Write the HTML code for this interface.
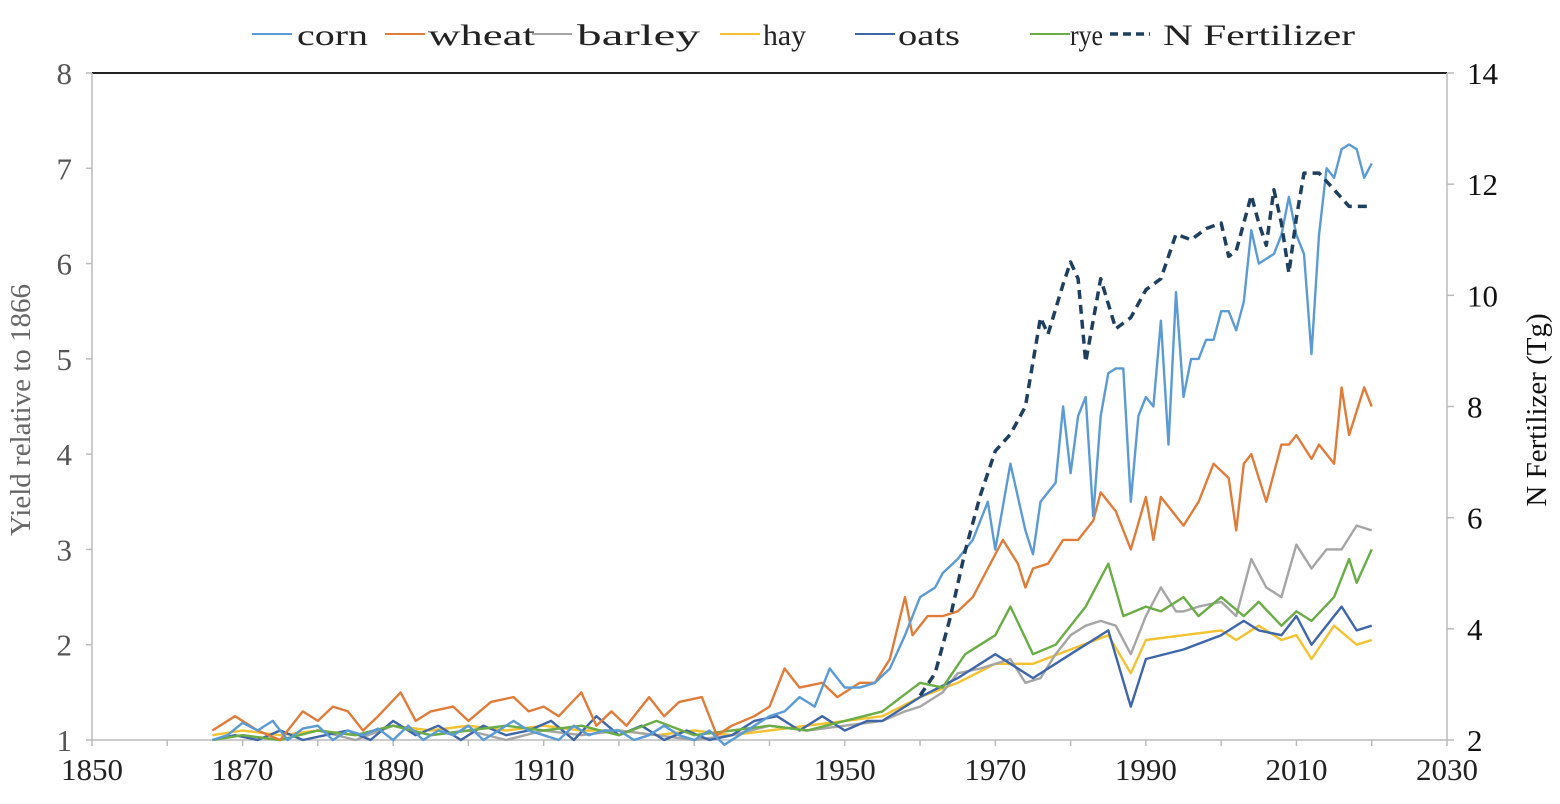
<!DOCTYPE html>
<html><head><meta charset="utf-8"><style>
body{margin:0;background:#fff;}
svg{display:block;font-family:"Liberation Serif",serif;}
</style></head><body>
<svg id="chart" width="1560" height="804" xmlns="http://www.w3.org/2000/svg">
<g id="axes"></g>
<g id="series"></g>
<g id="legend"></g>
<text transform="translate(30,410) rotate(-90)" text-anchor="middle" font-size="29" fill="#666">Yield relative to 1866</text>
<text transform="translate(1546,410) rotate(-90)" text-anchor="middle" font-size="29" fill="#111">N Fertilizer (Tg)</text>
</svg>
<script>
const xTicks=[1850,1870,1890,1910,1930,1950,1970,1990,2010,2030];
const yTicksLeft=[1,2,3,4,5,6,7,8];
const yTicksRight=[2,4,6,8,10,12,14];

const cornYears=[1866,1868,1870,1872,1874,1876,1878,1880,1882,1884,1886,1888,1890,1892,1894,1896,1898,1900,1902,1904,1906,1908,1910,1912,1914,1916,1918,1920,1922,1924,1926,1928,1930,1932,1934,1936,1938,1940,1942,1944,1946,1948,1950,1952,1954,1956,1958,1960,1962,1963,1965,1967,1969,1970,1972,1974,1975,1976,1978,1979,1980,1981,1982,1983,1984,1985,1986,1987,1988,1989,1990,1991,1992,1993,1994,1995,1996,1997,1998,1999,2000,2001,2002,2003,2004,2005,2006,2007,2008,2009,2010,2011,2012,2013,2014,2015,2016,2017,2018,2019,2020];
const cornValues=[1,1.05,1.18,1.1,1.2,1.0,1.12,1.15,1.0,1.1,1.05,1.12,1.0,1.15,1.0,1.1,1.05,1.15,1.0,1.1,1.2,1.1,1.05,1.0,1.15,1.05,1.1,1.1,1.0,1.05,1.15,1.05,1.0,1.1,0.95,1.05,1.15,1.25,1.3,1.45,1.35,1.75,1.55,1.55,1.6,1.75,2.1,2.5,2.6,2.75,2.9,3.1,3.5,3.0,3.9,3.2,2.95,3.5,3.7,4.5,3.8,4.4,4.6,3.35,4.4,4.85,4.9,4.9,3.5,4.4,4.6,4.5,5.4,4.1,5.7,4.6,5.0,5.0,5.2,5.2,5.5,5.5,5.3,5.6,6.35,6.0,6.05,6.1,6.3,6.7,6.3,6.1,5.05,6.3,7.0,6.9,7.2,7.25,7.2,6.9,7.05];

const wheatYears=[1866,1869,1872,1875,1878,1880,1882,1884,1886,1888,1891,1893,1895,1898,1900,1903,1906,1908,1910,1912,1915,1917,1919,1921,1924,1926,1928,1931,1933,1935,1938,1940,1942,1944,1947,1949,1950,1952,1954,1956,1958,1959,1961,1963,1965,1967,1969,1971,1973,1974,1975,1977,1979,1981,1983,1984,1986,1988,1990,1991,1992,1994,1995,1997,1998,1999,2001,2002,2003,2004,2006,2008,2009,2010,2012,2013,2015,2016,2017,2019,2020];
const wheatValues=[1.1,1.25,1.1,1.0,1.3,1.2,1.35,1.3,1.1,1.25,1.5,1.2,1.3,1.35,1.2,1.4,1.45,1.3,1.35,1.25,1.5,1.15,1.3,1.15,1.45,1.25,1.4,1.45,1.05,1.15,1.25,1.35,1.75,1.55,1.6,1.45,1.5,1.6,1.6,1.85,2.5,2.1,2.3,2.3,2.35,2.5,2.8,3.1,2.85,2.6,2.8,2.85,3.1,3.1,3.3,3.6,3.4,3.0,3.55,3.1,3.55,3.35,3.25,3.5,3.7,3.9,3.75,3.2,3.9,4.0,3.5,4.1,4.1,4.2,3.95,4.1,3.9,4.7,4.2,4.7,4.5];

const barleyYears=[1866,1870,1875,1880,1885,1890,1895,1900,1905,1910,1915,1920,1925,1930,1935,1940,1945,1950,1955,1958,1960,1963,1965,1968,1970,1972,1974,1976,1978,1980,1982,1984,1986,1988,1990,1992,1994,1995,1997,2000,2002,2004,2006,2008,2010,2012,2014,2016,2018,2020];
const barleyValues=[1,1.05,1.0,1.1,1.0,1.15,1.05,1.1,1.0,1.1,1.05,1.1,1.05,1.0,1.05,1.15,1.1,1.15,1.2,1.3,1.35,1.5,1.7,1.75,1.8,1.85,1.6,1.65,1.9,2.1,2.2,2.25,2.2,1.9,2.3,2.6,2.35,2.35,2.4,2.45,2.3,2.9,2.6,2.5,3.05,2.8,3.0,3.0,3.25,3.2];

const hayYears=[1866,1870,1875,1880,1885,1890,1895,1900,1905,1910,1915,1920,1925,1930,1935,1940,1945,1950,1955,1960,1965,1970,1975,1980,1985,1988,1990,1995,2000,2002,2005,2008,2010,2012,2015,2018,2020];
const hayValues=[1.05,1.1,1.05,1.1,1.05,1.15,1.1,1.15,1.1,1.15,1.1,1.1,1.05,1.1,1.05,1.1,1.15,1.2,1.25,1.45,1.6,1.8,1.8,1.95,2.1,1.7,2.05,2.1,2.15,2.05,2.2,2.05,2.1,1.85,2.2,2.0,2.05];

const oatsYears=[1866,1869,1872,1875,1878,1881,1884,1887,1890,1893,1896,1899,1902,1905,1908,1911,1914,1917,1920,1923,1926,1929,1932,1935,1938,1941,1944,1947,1950,1953,1955,1960,1965,1970,1975,1980,1985,1988,1990,1995,2000,2003,2005,2008,2010,2012,2016,2018,2020];
const oatsValues=[1,1.05,1.0,1.1,1.0,1.05,1.1,1.0,1.2,1.05,1.15,1.0,1.15,1.05,1.1,1.2,1.0,1.25,1.05,1.15,1.0,1.1,1.0,1.05,1.2,1.25,1.1,1.25,1.1,1.2,1.2,1.45,1.65,1.9,1.65,1.9,2.15,1.35,1.85,1.95,2.1,2.25,2.15,2.1,2.3,2.0,2.4,2.15,2.2];

const ryeYears=[1866,1870,1875,1880,1885,1890,1895,1900,1905,1910,1915,1920,1925,1930,1935,1940,1945,1950,1955,1960,1963,1966,1970,1972,1975,1978,1982,1985,1987,1990,1992,1995,1997,2000,2003,2005,2008,2010,2012,2015,2017,2018,2020];
const ryeValues=[1,1.05,1.0,1.1,1.05,1.15,1.05,1.1,1.15,1.1,1.15,1.05,1.2,1.05,1.1,1.15,1.1,1.2,1.3,1.6,1.55,1.9,2.1,2.4,1.9,2.0,2.4,2.85,2.3,2.4,2.35,2.5,2.3,2.5,2.3,2.45,2.2,2.35,2.25,2.5,2.9,2.65,3.0];

const fertYears=[1960,1962,1964,1966,1968,1970,1972,1974,1976,1977,1979,1980,1981,1982,1984,1986,1988,1990,1992,1994,1996,1998,2000,2001,2002,2004,2005,2006,2007,2008,2009,2010,2011,2013,2015,2017,2020];
const fertValues=[2.8,3.2,4.2,5.4,6.4,7.2,7.5,8.0,9.6,9.3,10.2,10.6,10.3,8.8,10.3,9.4,9.6,10.1,10.3,11.1,11.0,11.2,11.3,10.7,10.8,11.8,11.3,10.9,11.9,11.3,10.4,11.4,12.2,12.2,11.9,11.6,11.6];

const X0=92,X1=1447,Y0=740,Y1=73;
function xs(yr){return X0+(yr-1850)/(2030-1850)*(X1-X0);}
function yl(v){return Y0-(v-1)/(8-1)*(Y0-Y1);}
function yr(v){return Y0-(v-2)/(14-2)*(Y0-Y1);}
const NS="http://www.w3.org/2000/svg";
function mk(tag,attrs,parent){const e=document.createElementNS(NS,tag);for(const k in attrs)e.setAttribute(k,attrs[k]);parent.appendChild(e);return e;}

const axes=document.getElementById('axes');
let e;
e=mk('line',{x1:X0,y1:Y1,x2:X1,y2:Y1,stroke:'#222','stroke-width':2},axes);


e=mk('line',{x1:X0,y1:Y1,x2:X0,y2:Y0,stroke:'#bbb','stroke-width':1.5},axes);


e=mk('line',{x1:X1,y1:Y1,x2:X1,y2:Y0,stroke:'#bbb','stroke-width':1.5},axes);


e=mk('line',{x1:X0,y1:Y0,x2:X1,y2:Y0,stroke:'#bbb','stroke-width':1.5},axes);


for(let i=0;i<=18;i++){const x=xs(1850+i*10);e=mk('line',{x1:x,y1:Y0,x2:x,y2:Y0+6,stroke:'#bbb','stroke-width':1.5},axes);

}
xTicks.forEach(t=>{e=mk('text',{x:xs(t),y:Y0+40,'text-anchor':'middle','font-size':31,fill:'#222'},axes);e.textContent=t;

});
yTicksLeft.forEach(t=>{e=mk('line',{x1:X0-6,y1:yl(t),x2:X0,y2:yl(t),stroke:'#bbb','stroke-width':1.5},axes);


e=mk('text',{x:X0-20,y:yl(t)+11,'text-anchor':'end','font-size':31,fill:'#555'},axes);e.textContent=t;

});
yTicksRight.forEach(t=>{e=mk('line',{x1:X1,y1:yr(t),x2:X1+7,y2:yr(t),stroke:'#bbb','stroke-width':1.5},axes);


e=mk('text',{x:X1+20,y:yr(t)+11,'text-anchor':'start','font-size':31,fill:'#111'},axes);e.textContent=t;

});

const sg=document.getElementById('series');
function line(years,vals,fy,color,w,dash,name){
  const pts=years.map((y,i)=>xs(y).toFixed(1)+','+fy(vals[i]).toFixed(1)).join(' ');
  const p=mk('polyline',{points:pts,fill:'none',stroke:color,'stroke-width':w,'stroke-linejoin':'round'},sg);
  if(dash)p.setAttribute('stroke-dasharray',dash);
  
  
}
line(hayYears,hayValues,yl,'#f2c230',2.4,null,'series-hay');
line(barleyYears,barleyValues,yl,'#a5a5a5',2.4,null,'series-barley');
line(oatsYears,oatsValues,yl,'#3f66a8',2.4,null,'series-oats');
line(ryeYears,ryeValues,yl,'#6aac46',2.4,null,'series-rye');
line(wheatYears,wheatValues,yl,'#e07c3a',2.4,null,'series-wheat');
line(cornYears,cornValues,yl,'#5b9bd5',2.4,null,'series-corn');
line(fertYears,fertValues,yr,'#1f3f5e',3.5,'9,6','series-n-fertilizer');

const lg=document.getElementById('legend');
const items=[['corn','#5b9bd5',252,null,297,71],['wheat','#e07c3a',385,null,428,107],['barley','#a5a5a5',532,null,577,123],['hay','#f2c230',720,null,763,43],['oats','#3f66a8',855,null,898,62],['rye','#6aac46',1030,null,1070,33],['N Fertilizer','#1f3f5e',1110,'8,5',1163,192]];
items.forEach(it=>{
  const g=mk('g',{},lg);
  
  
  const l=mk('line',{x1:it[2],y1:34,x2:it[2]+40,y2:34,stroke:it[1],'stroke-width':it[3]?3.5:2},g);
  if(it[3])l.setAttribute('stroke-dasharray',it[3]);
  const t=mk('text',{x:it[4],y:45,'font-size':30,fill:'#222',textLength:it[5],lengthAdjust:'spacingAndGlyphs'},g);t.textContent=it[0];
});
</script>
</body></html>
